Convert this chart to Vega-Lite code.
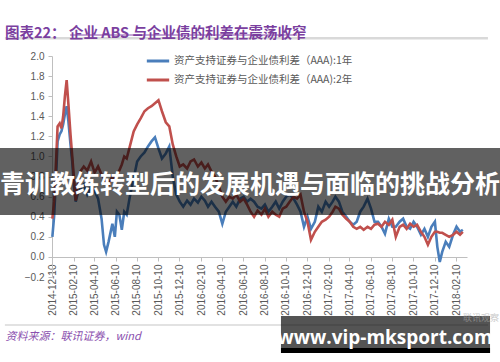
{
  "$schema": "https://vega.github.io/schema/vega-lite/v6.json",
  "width": 415,
  "height": 221,
  "autosize": "none",
  "padding": {"left": 52, "top": 56, "right": 33, "bottom": 85},
  "background": "white",
  "title": {
    "text": "图表22：  企业 ABS 与企业债的利差在震荡收窄",
    "anchor": "start",
    "frame": "group",
    "dx": -47,
    "offset": -7,
    "fontSize": 14.5,
    "fontWeight": "bold",
    "color": "#7b3f9f",
    "font": "Noto Sans CJK SC"
  },
  "resolve": {"axis": {"x": "independent", "y": "independent"}},
  "layer": [
    {
      "data": {"values": [
        {"d": "2014-12-11", "a": 0.20, "b": 0.38},
        {"d": "2014-12-16", "a": 0.40, "b": 0.55},
        {"d": "2014-12-21", "a": 0.75, "b": 0.90},
        {"d": "2014-12-26", "a": 1.15, "b": 1.30},
        {"d": "2015-01-01", "a": 1.22, "b": 1.33},
        {"d": "2015-01-06", "a": 1.25, "b": 1.28},
        {"d": "2015-01-11", "a": 1.32, "b": 1.40},
        {"d": "2015-01-16", "a": 1.42, "b": 1.60},
        {"d": "2015-01-21", "a": 1.50, "b": 1.76},
        {"d": "2015-01-26", "a": 1.35, "b": 1.52},
        {"d": "2015-02-01", "a": 1.12, "b": 1.22},
        {"d": "2015-02-06", "a": 0.95, "b": 1.00},
        {"d": "2015-02-11", "a": 0.70, "b": 0.78},
        {"d": "2015-02-16", "a": 0.55, "b": 0.56},
        {"d": "2015-02-21", "a": 0.62, "b": 0.70},
        {"d": "2015-03-01", "a": 0.68, "b": 0.85},
        {"d": "2015-03-11", "a": 0.72, "b": 0.90},
        {"d": "2015-03-21", "a": 0.62, "b": 0.86},
        {"d": "2015-04-01", "a": 0.70, "b": 0.95},
        {"d": "2015-04-11", "a": 0.66, "b": 0.84},
        {"d": "2015-04-21", "a": 0.58, "b": 0.90},
        {"d": "2015-05-01", "a": 0.38, "b": 0.82},
        {"d": "2015-05-08", "a": 0.12, "b": 0.78},
        {"d": "2015-05-14", "a": 0.05, "b": 0.74},
        {"d": "2015-05-21", "a": 0.15, "b": 0.72},
        {"d": "2015-06-01", "a": 0.33, "b": 0.80},
        {"d": "2015-06-08", "a": 0.20, "b": 0.76},
        {"d": "2015-06-14", "a": 0.45, "b": 0.82},
        {"d": "2015-06-21", "a": 0.42, "b": 0.86},
        {"d": "2015-06-28", "a": 0.27, "b": 0.92},
        {"d": "2015-07-05", "a": 0.45, "b": 1.00},
        {"d": "2015-07-12", "a": 0.42, "b": 0.98},
        {"d": "2015-07-21", "a": 0.60, "b": 1.10},
        {"d": "2015-08-01", "a": 0.78, "b": 1.25},
        {"d": "2015-08-11", "a": 0.95, "b": 1.32},
        {"d": "2015-08-21", "a": 1.00, "b": 1.38},
        {"d": "2015-09-01", "a": 1.04, "b": 1.45},
        {"d": "2015-09-11", "a": 1.10, "b": 1.48},
        {"d": "2015-09-21", "a": 1.15, "b": 1.50},
        {"d": "2015-10-01", "a": 1.19, "b": 1.53},
        {"d": "2015-10-11", "a": 1.08, "b": 1.56},
        {"d": "2015-10-21", "a": 0.98, "b": 1.45},
        {"d": "2015-11-01", "a": 1.03, "b": 1.34},
        {"d": "2015-11-11", "a": 1.10, "b": 1.30},
        {"d": "2015-11-21", "a": 0.80, "b": 1.12},
        {"d": "2015-12-01", "a": 0.62, "b": 1.00},
        {"d": "2015-12-11", "a": 0.55, "b": 0.90},
        {"d": "2015-12-21", "a": 0.50, "b": 0.92},
        {"d": "2016-01-01", "a": 0.56, "b": 0.88},
        {"d": "2016-01-11", "a": 0.52, "b": 0.95},
        {"d": "2016-01-21", "a": 0.58, "b": 0.97},
        {"d": "2016-02-01", "a": 0.54, "b": 0.90},
        {"d": "2016-02-11", "a": 0.60, "b": 0.94},
        {"d": "2016-02-21", "a": 0.56, "b": 0.88},
        {"d": "2016-03-01", "a": 0.50, "b": 0.92},
        {"d": "2016-03-11", "a": 0.55, "b": 0.85},
        {"d": "2016-03-21", "a": 0.50, "b": 0.80},
        {"d": "2016-04-01", "a": 0.45, "b": 0.70},
        {"d": "2016-04-11", "a": 0.33, "b": 0.60},
        {"d": "2016-04-21", "a": 0.45, "b": 0.55},
        {"d": "2016-05-01", "a": 0.50, "b": 0.60},
        {"d": "2016-05-11", "a": 0.55, "b": 0.58},
        {"d": "2016-05-21", "a": 0.50, "b": 0.62},
        {"d": "2016-06-01", "a": 0.58, "b": 0.55},
        {"d": "2016-06-11", "a": 0.60, "b": 0.58},
        {"d": "2016-06-21", "a": 0.55, "b": 0.52},
        {"d": "2016-07-01", "a": 0.58, "b": 0.45},
        {"d": "2016-07-11", "a": 0.55, "b": 0.40},
        {"d": "2016-07-21", "a": 0.50, "b": 0.46},
        {"d": "2016-08-01", "a": 0.48, "b": 0.42},
        {"d": "2016-08-11", "a": 0.52, "b": 0.48},
        {"d": "2016-08-21", "a": 0.45, "b": 0.40},
        {"d": "2016-09-01", "a": 0.50, "b": 0.45},
        {"d": "2016-09-11", "a": 0.55, "b": 0.42},
        {"d": "2016-09-21", "a": 0.48, "b": 0.40},
        {"d": "2016-10-01", "a": 0.55, "b": 0.48},
        {"d": "2016-10-11", "a": 0.60, "b": 0.50},
        {"d": "2016-10-21", "a": 0.62, "b": 0.55},
        {"d": "2016-11-01", "a": 0.58, "b": 0.60},
        {"d": "2016-11-11", "a": 0.52, "b": 0.58},
        {"d": "2016-11-21", "a": 0.45, "b": 0.62},
        {"d": "2016-12-01", "a": 0.30, "b": 0.45},
        {"d": "2016-12-11", "a": 0.40, "b": 0.35},
        {"d": "2016-12-21", "a": 0.28, "b": 0.17},
        {"d": "2017-01-01", "a": 0.35, "b": 0.25},
        {"d": "2017-01-11", "a": 0.50, "b": 0.30},
        {"d": "2017-01-21", "a": 0.45, "b": 0.35},
        {"d": "2017-02-01", "a": 0.55, "b": 0.37},
        {"d": "2017-02-11", "a": 0.50, "b": 0.40},
        {"d": "2017-02-21", "a": 0.55, "b": 0.45},
        {"d": "2017-03-01", "a": 0.60, "b": 0.50},
        {"d": "2017-03-11", "a": 0.55, "b": 0.48},
        {"d": "2017-03-21", "a": 0.45, "b": 0.42},
        {"d": "2017-04-01", "a": 0.40, "b": 0.38},
        {"d": "2017-04-11", "a": 0.35, "b": 0.35},
        {"d": "2017-04-21", "a": 0.32, "b": 0.30},
        {"d": "2017-05-01", "a": 0.35, "b": 0.28},
        {"d": "2017-05-11", "a": 0.45, "b": 0.30},
        {"d": "2017-05-21", "a": 0.50, "b": 0.27},
        {"d": "2017-06-01", "a": 0.58, "b": 0.30},
        {"d": "2017-06-11", "a": 0.48, "b": 0.28},
        {"d": "2017-06-21", "a": 0.35, "b": 0.32},
        {"d": "2017-07-01", "a": 0.35, "b": 0.33},
        {"d": "2017-07-11", "a": 0.30, "b": 0.30},
        {"d": "2017-07-21", "a": 0.23, "b": 0.35},
        {"d": "2017-08-01", "a": 0.38, "b": 0.32},
        {"d": "2017-08-11", "a": 0.30, "b": 0.37},
        {"d": "2017-08-21", "a": 0.30, "b": 0.20},
        {"d": "2017-09-01", "a": 0.35, "b": 0.30},
        {"d": "2017-09-11", "a": 0.38, "b": 0.32},
        {"d": "2017-09-21", "a": 0.30, "b": 0.28},
        {"d": "2017-10-01", "a": 0.28, "b": 0.33},
        {"d": "2017-10-11", "a": 0.35, "b": 0.30},
        {"d": "2017-10-21", "a": 0.30, "b": 0.32},
        {"d": "2017-11-01", "a": 0.22, "b": 0.25},
        {"d": "2017-11-11", "a": 0.28, "b": 0.20},
        {"d": "2017-11-21", "a": 0.20, "b": 0.12},
        {"d": "2017-12-01", "a": 0.30, "b": 0.20},
        {"d": "2017-12-11", "a": 0.35, "b": 0.25},
        {"d": "2017-12-18", "a": 0.10, "b": 0.25},
        {"d": "2017-12-25", "a": -0.05, "b": 0.24},
        {"d": "2018-01-01", "a": 0.05, "b": 0.24},
        {"d": "2018-01-11", "a": 0.15, "b": 0.22},
        {"d": "2018-01-21", "a": 0.10, "b": 0.20},
        {"d": "2018-02-01", "a": 0.22, "b": 0.22},
        {"d": "2018-02-11", "a": 0.30, "b": 0.25},
        {"d": "2018-02-21", "a": 0.25, "b": 0.22},
        {"d": "2018-03-01", "a": 0.27, "b": 0.25}
      ]},
      "transform": [{"fold": ["a", "b"], "as": ["s", "v"]}],
      "mark": {"type": "line", "strokeWidth": 2.6},
      "encoding": {
        "x": {
          "field": "d",
          "type": "temporal",
          "scale": {"domain": [
            {"year": 2014, "month": 12, "date": 10, "utc": true},
            {"year": 2018, "month": 3, "date": 13, "utc": true}
          ]},
          "axis": {
            "title": "资料来源：联讯证券，wind",
            "titleColor": "#8a4fae",
            "titleFontStyle": "italic",
            "titleFontWeight": "normal",
            "titleFontSize": 11,
            "titleFont": "Noto Sans CJK SC",
            "titleX": -47,
            "titleY": 79,
            "titleAlign": "left",
            "titleBaseline": "middle",
            "offset": -20,
            "values": [
              {"year": 2014, "month": 12, "date": 10, "utc": true},
              {"year": 2015, "month": 2, "date": 10, "utc": true},
              {"year": 2015, "month": 4, "date": 10, "utc": true},
              {"year": 2015, "month": 6, "date": 10, "utc": true},
              {"year": 2015, "month": 8, "date": 10, "utc": true},
              {"year": 2015, "month": 10, "date": 10, "utc": true},
              {"year": 2015, "month": 12, "date": 10, "utc": true},
              {"year": 2016, "month": 2, "date": 10, "utc": true},
              {"year": 2016, "month": 4, "date": 10, "utc": true},
              {"year": 2016, "month": 6, "date": 10, "utc": true},
              {"year": 2016, "month": 8, "date": 10, "utc": true},
              {"year": 2016, "month": 10, "date": 10, "utc": true},
              {"year": 2016, "month": 12, "date": 10, "utc": true},
              {"year": 2017, "month": 2, "date": 10, "utc": true},
              {"year": 2017, "month": 4, "date": 10, "utc": true},
              {"year": 2017, "month": 6, "date": 10, "utc": true},
              {"year": 2017, "month": 8, "date": 10, "utc": true},
              {"year": 2017, "month": 10, "date": 10, "utc": true},
              {"year": 2017, "month": 12, "date": 10, "utc": true},
              {"year": 2018, "month": 2, "date": 10, "utc": true}
            ],
            "labelExpr": "utcFormat(datum.value, '%Y-%m-%d')",
            "labelAngle": 270,
            "labelFontSize": 10,
            "labelFont": "Liberation Sans",
            "labelColor": "#595959",
            "labelPadding": 3,
            "labelOverlap": false,
            "labelFlush": false,
            "tickSize": 4,
            "tickColor": "#bfbfbf",
            "domainColor": "#bfbfbf",
            "grid": false
          }
        },
        "y": {
          "field": "v",
          "type": "quantitative",
          "scale": {"domain": [-0.2, 2.0], "nice": false, "zero": false},
          "axis": {
            "title": null,
            "values": [-0.2, 0, 0.2, 0.4, 0.6, 0.8, 1.0, 1.2, 1.4, 1.6, 1.8, 2.0],
            "format": ".1f",
            "labelOverlap": false,
            "labelFlush": false,
            "labelFontSize": 10,
            "labelFont": "Liberation Sans",
            "labelColor": "#595959",
            "labelPadding": 4,
            "tickSize": 4,
            "tickColor": "#bfbfbf",
            "domainColor": "#bfbfbf",
            "grid": false
          }
        },
        "color": {
          "field": "s",
          "type": "nominal",
          "scale": {"domain": ["a", "b"], "range": ["#4a7ebb", "#c0504d"]},
          "legend": {
            "title": null,
            "orient": "none",
            "legendX": 93,
            "legendY": -8,
            "labelExpr": "datum.value == 'a' ? '资产支持证券与企业债利差（AAA):1年' : '资产支持证券与企业债利差（AAA):2年'",
            "symbolType": "stroke",
            "symbolStrokeWidth": 3,
            "symbolSize": 500,
            "labelFontSize": 10.5,
            "labelFont": "Noto Sans CJK SC",
            "labelColor": "#595959",
            "labelLimit": 300,
            "labelOffset": 3,
            "rowPadding": 0
          }
        }
      }
    },
    {
      "data": {"values": [{}]},
      "mark": {"type": "rule", "color": "#d9d9d9", "strokeWidth": 2.5},
      "encoding": {
        "x": {"datum": {"year": 2014, "month": 7, "date": 28, "utc": true}, "type": "temporal", "axis": null},
        "x2": {"datum": {"year": 2018, "month": 5, "date": 12, "utc": true}},
        "y": {"datum": 2.176, "type": "quantitative", "axis": null}
      }
    },
    {
      "data": {"values": [{}]},
      "mark": {"type": "rule", "color": "#8a4fae", "strokeWidth": 1},
      "encoding": {
        "x": {"datum": {"year": 2015, "month": 1, "date": 31, "utc": true}, "type": "temporal", "axis": null},
        "x2": {"datum": {"year": 2016, "month": 11, "date": 11, "utc": true}},
        "y": {"datum": 2.209, "type": "quantitative", "axis": null}
      }
    },
    {
      "data": {"values": [{}]},
      "mark": {"type": "rule", "color": "#d9d9d9", "strokeWidth": 1.5},
      "encoding": {
        "x": {"datum": {"year": 2014, "month": 7, "date": 28, "utc": true}, "type": "temporal", "axis": null},
        "x2": {"datum": {"year": 2018, "month": 5, "date": 12, "utc": true}},
        "y": {"datum": -0.678, "type": "quantitative", "axis": null}
      }
    },
    {
      "data": {"values": [{}]},
      "mark": {"type": "rect", "color": "black", "opacity": 0.62},
      "encoding": {
        "x": {"datum": {"year": 2014, "month": 7, "date": 1, "utc": true}, "type": "temporal", "axis": null},
        "x2": {"datum": {"year": 2018, "month": 7, "date": 1, "utc": true}},
        "y": {"datum": 1.084, "type": "quantitative", "axis": null},
        "y2": {"datum": 0.417}
      }
    },
    {
      "data": {"values": [{}]},
      "mark": {"type": "text", "text": "青训教练转型后的发展机遇与面临的挑战分析", "align": "left", "baseline": "middle", "fontSize": 25, "fontWeight": "bold", "color": "white", "font": "Noto Sans CJK SC"},
      "encoding": {
        "x": {"datum": {"year": 2014, "month": 7, "date": 14, "utc": true}, "type": "temporal", "axis": null},
        "y": {"datum": 0.716, "type": "quantitative", "axis": null}
      }
    },
    {
      "data": {"values": [{}]},
      "mark": {"type": "rect", "color": "black", "opacity": 0.67},
      "encoding": {
        "x": {"datum": {"year": 2016, "month": 9, "date": 26, "utc": true}, "type": "temporal", "axis": null},
        "x2": {"datum": {"year": 2018, "month": 5, "date": 18, "utc": true}},
        "y": {"datum": -0.588, "type": "quantitative", "axis": null},
        "y2": {"datum": -0.957}
      }
    },
    {
      "data": {"values": [{}]},
      "mark": {"type": "rect", "color": "black", "opacity": 1},
      "encoding": {
        "x": {"datum": {"year": 2016, "month": 9, "date": 26, "utc": true}, "type": "temporal", "axis": null},
        "x2": {"datum": {"year": 2018, "month": 5, "date": 18, "utc": true}},
        "y": {"datum": -0.907, "type": "quantitative", "axis": null},
        "y2": {"datum": -0.957}
      }
    },
    {
      "data": {"values": [{}]},
      "mark": {"type": "text", "text": "联讯观察", "align": "center", "baseline": "middle", "fontSize": 9, "color": "#aaaaaa", "opacity": 0.6, "font": "Noto Sans CJK SC"},
      "encoding": {
        "x": {"datum": {"year": 2018, "month": 4, "date": 22, "utc": true}, "type": "temporal", "axis": null},
        "y": {"datum": -0.61, "type": "quantitative", "axis": null}
      }
    },
    {
      "data": {"values": [{}]},
      "mark": {"type": "text", "text": "www.vip-mksport.com", "align": "center", "baseline": "middle", "fontSize": 19, "fontWeight": "bold", "color": "white", "font": "Open Sans"},
      "encoding": {
        "x": {"datum": {"year": 2017, "month": 7, "date": 21, "utc": true}, "type": "temporal", "axis": null},
        "y": {"datum": -0.81, "type": "quantitative", "axis": null}
      }
    }
  ],
  "config": {"view": {"stroke": null}}
}
